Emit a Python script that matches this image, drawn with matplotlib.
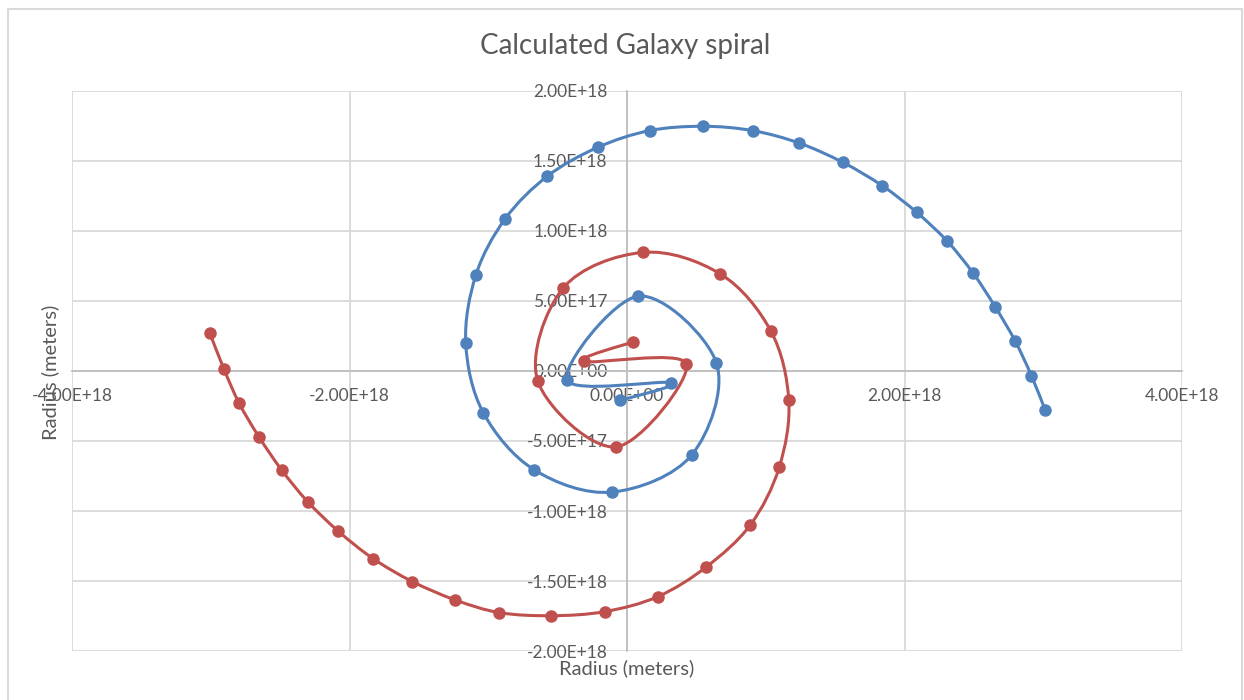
import numpy as np
import matplotlib
matplotlib.use('Agg')
import matplotlib.pyplot as plt
from matplotlib.path import Path
from matplotlib.patches import PathPatch, Rectangle
from matplotlib.ticker import FuncFormatter, MultipleLocator

plt.rcParams['font.family'] = ['Lato', 'DejaVu Sans']

# 数据 (单位: 米)
blue_x = [-0.048e18, 0.320e18, -0.433e18, 0.082e18, 0.644e18, 0.469e18, -0.108e18,
          -0.667e18, -1.035e18, -1.162e18, -1.089e18, -0.878e18, -0.573e18, -0.212e18,
          0.163e18, 0.548e18, 0.906e18, 1.241e18, 1.556e18, 1.840e18, 2.087e18,
          2.309e18, 2.496e18, 2.655e18, 2.797e18, 2.915e18, 3.013e18]
blue_y = [-0.210e18, -0.084e18, -0.064e18, 0.535e18, 0.059e18, -0.597e18, -0.865e18,
          -0.707e18, -0.299e18, 0.198e18, 0.686e18, 1.087e18, 1.392e18, 1.597e18,
          1.717e18, 1.748e18, 1.717e18, 1.628e18, 1.490e18, 1.323e18, 1.134e18,
          0.926e18, 0.697e18, 0.456e18, 0.215e18, -0.034e18, -0.277e18]

red_x = [0.043e18, -0.313e18, 0.428e18, -0.077e18, -0.642e18, -0.462e18, 0.113e18,
         0.673e18, 1.036e18, 1.166e18, 1.097e18, 0.890e18, 0.572e18, 0.221e18,
         -0.162e18, -0.546e18, -0.919e18, -1.239e18, -1.547e18, -1.830e18, -2.081e18,
         -2.302e18, -2.489e18, -2.651e18, -2.795e18, -2.906e18, -3.006e18]
red_y = [0.208e18, 0.069e18, 0.052e18, -0.542e18, -0.074e18, 0.590e18, 0.847e18,
         0.693e18, 0.287e18, -0.210e18, -0.688e18, -1.098e18, -1.399e18, -1.612e18,
         -1.719e18, -1.748e18, -1.726e18, -1.635e18, -1.504e18, -1.340e18, -1.144e18,
         -0.933e18, -0.707e18, -0.473e18, -0.231e18, 0.016e18, 0.270e18]

COLORS = {'blue': '#4F81BD', 'red': '#C0504D', 'text': '#595959',
          'grid': '#D9D9D9', 'axis': '#BFBFBF'}


def smooth_path(xs, ys):
    """Excel 风格平滑线: 用三次贝塞尔曲线连接各点"""
    pts = np.column_stack([xs, ys])
    n = len(pts)
    verts = [pts[0]]
    codes = [Path.MOVETO]
    for i in range(n - 1):
        p0 = pts[max(i - 1, 0)]
        p1 = pts[i]
        p2 = pts[i + 1]
        p3 = pts[min(i + 2, n - 1)]
        c1 = p1 + (p2 - p0) / 6.0
        c2 = p2 - (p3 - p1) / 6.0
        verts += [c1, c2, p2]
        codes += [Path.CURVE4] * 3
    return Path(verts, codes)


fig = plt.figure(figsize=(12.44, 7.0), dpi=100)
fig.patch.set_facecolor('white')
W, H = 1244, 700

# 图表外框
fig.patches.append(Rectangle((8 / W, -10 / H), (1242 - 8) / W, (691 + 10) / H,
                             transform=fig.transFigure, fill=False,
                             edgecolor=COLORS['grid'], linewidth=1.5))

ax = fig.add_axes([72 / W, (H - 651) / H, (1182 - 72) / W, (651 - 91) / H])
ax.set_facecolor('white')

for xs, ys, c in [(blue_x, blue_y, COLORS['blue']), (red_x, red_y, COLORS['red'])]:
    ax.add_patch(PathPatch(smooth_path(xs, ys), fill=False, edgecolor=c,
                           linewidth=2.2, capstyle='round', joinstyle='round', zorder=3))
    ax.plot(xs, ys, linestyle='none', marker='o', markersize=8, color=c, zorder=4)

ax.set_xlim(-4e18, 4e18)
ax.set_ylim(-2e18, 2e18)
ax.xaxis.set_major_locator(MultipleLocator(2e18))
ax.yaxis.set_major_locator(MultipleLocator(0.5e18))
fmt = FuncFormatter(lambda v, pos: f'{v:.2E}')
ax.xaxis.set_major_formatter(fmt)
ax.yaxis.set_major_formatter(fmt)

ax.grid(True, color=COLORS['grid'], linewidth=1.3, zorder=0)
ax.set_axisbelow(True)

for s in ['top', 'right']:
    ax.spines[s].set_visible(False)
for s in ['left', 'bottom']:
    ax.spines[s].set_position(('data', 0))
    ax.spines[s].set_color(COLORS['axis'])
    ax.spines[s].set_linewidth(1.3)
    ax.spines[s].set_zorder(1)

ax.tick_params(axis='both', length=0, labelsize=12.5, labelcolor=COLORS['text'])
ax.tick_params(axis='x', pad=12)
ax.tick_params(axis='y', pad=14)

fig.text(625 / W, 1 - 46 / H, 'Calculated Galaxy spiral', ha='center', va='center',
         fontsize=20, color=COLORS['text'])
fig.text(627 / W, 1 - 668 / H, 'Radius (meters)', ha='center', va='center',
         fontsize=14.5, color=COLORS['text'])
fig.text(50 / W, 1 - 372 / H, 'Radius (meters)', ha='center', va='center',
         rotation=90, fontsize=14.5, color=COLORS['text'])

fig.savefig('out.png', dpi=100, facecolor=fig.get_facecolor())
